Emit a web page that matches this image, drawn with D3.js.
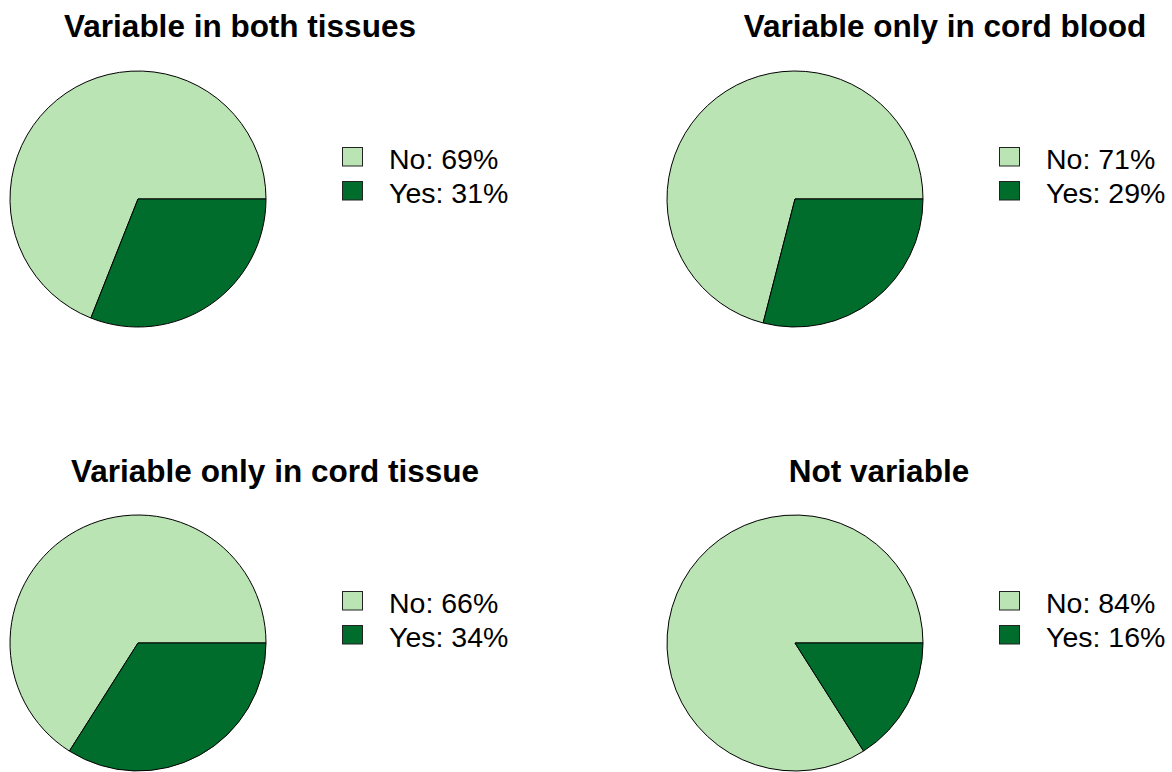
<!DOCTYPE html>
<html>
<head>
<meta charset="utf-8">
<script src="https://cdn.jsdelivr.net/npm/d3@7"></script>
<style>
  html, body { margin: 0; padding: 0; background: #ffffff; }
  svg { display: block; }
  text { font-family: "Liberation Sans", Arial, Helvetica, sans-serif; fill: #000; }
</style>
</head>
<body>
<svg id="chart" width="1172" height="772"></svg>
<script>
// Share of sites per variability group
const panelTitles = [
  "Variable in both tissues",
  "Variable only in cord blood",
  "Variable only in cord tissue",
  "Not variable"
];
const categories = ["No", "Yes"];
const noValues  = [69, 71, 66, 84];
const yesValues = [31, 29, 34, 16];
const sliceColors = ["#bae4b3", "#006d2c"];

// Layout of the 2x2 grid
const layout = [
  { cx: 138, cy: 199, titleX: 240, titleY: 37, legendX: 342, legendY: 147 },
  { cx: 795, cy: 199, titleX: 945, titleY: 37, legendX: 999, legendY: 147 },
  { cx: 138, cy: 643, titleX: 275, titleY: 482, legendX: 342, legendY: 591 },
  { cx: 795, cy: 643, titleX: 879, titleY: 482, legendX: 999, legendY: 591 }
];
const radius = 128;

const svg = d3.select("#chart");
const color = d3.scaleOrdinal().domain(categories).range(sliceColors);

// Slices run counter-clockwise from 3 o'clock, as in base R pie()
const pie = d3.pie()
  .sort(null)
  .value(d => d.value)
  .startAngle(Math.PI / 2)
  .endAngle(Math.PI / 2 - 2 * Math.PI);
const arc = d3.arc().innerRadius(0).outerRadius(radius);

panelTitles.forEach((title, i) => {
  const L = layout[i];
  const data = categories.map((c, j) => ({ cat: c, value: j === 0 ? noValues[i] : yesValues[i] }));
  const g = svg.append("g");

  g.append("text")
    .attr("x", L.titleX)
    .attr("y", L.titleY)
    .attr("text-anchor", "middle")
    .attr("font-weight", "bold")
    .attr("font-size", 31.5)
    .text(title);

  g.append("g")
    .attr("transform", `translate(${L.cx},${L.cy})`)
    .selectAll("path")
    .data(pie(data))
    .join("path")
    .attr("d", arc)
    .attr("fill", d => color(d.data.cat))
    .attr("stroke", "#000")
    .attr("stroke-width", 1);

  const leg = g.append("g").attr("transform", `translate(${L.legendX},${L.legendY})`);
  const items = leg.selectAll("g").data(data).join("g")
    .attr("transform", (d, j) => `translate(0,${j * 34})`);
  items.append("rect")
    .attr("x", 0.5).attr("y", 0.5)
    .attr("width", 20).attr("height", 18.5)
    .attr("fill", d => color(d.cat))
    .attr("stroke", "#222")
    .attr("stroke-width", 1);
  items.append("text")
    .attr("x", 47)
    .attr("y", 22)
    .attr("font-size", 28.5)
    .text(d => `${d.cat}: ${d.value}%`);
});
</script>
</body>
</html>
